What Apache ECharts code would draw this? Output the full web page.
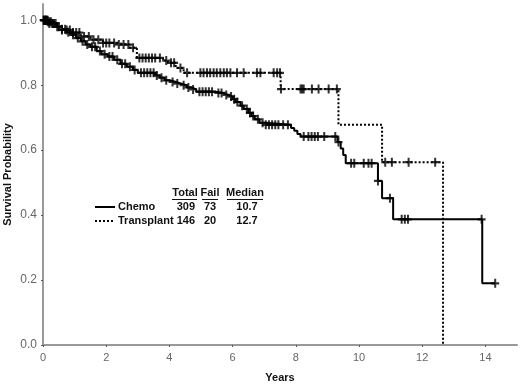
<!DOCTYPE html>
<html>
<head>
<meta charset="utf-8">
<script src="https://cdn.jsdelivr.net/npm/echarts@6/dist/echarts.min.js"></script>
<style>
  html, body { margin: 0; padding: 0; background: #fff; }
  #chart { width: 520px; height: 386px; }
</style>
</head>
<body>
<div id="chart"></div>
<script>
// Kaplan-Meier steps: [years, survival]
const chemoSteps = [
  [0, 1.0], [0.15, 0.995], [0.3, 0.99], [0.45, 0.98], [0.6, 0.972], [0.75, 0.963],
  [0.9, 0.955], [1.05, 0.945], [1.2, 0.935], [1.35, 0.925], [1.5, 0.918], [1.7, 0.905],
  [1.85, 0.895], [2.05, 0.888], [2.25, 0.878], [2.45, 0.866], [2.65, 0.857], [2.85, 0.847],
  [3.0, 0.838], [3.55, 0.83], [3.7, 0.823], [3.85, 0.815], [4.0, 0.81], [4.2, 0.805],
  [4.35, 0.8], [4.55, 0.793], [4.7, 0.787], [4.85, 0.78], [5.45, 0.776], [5.7, 0.77],
  [5.85, 0.765], [6.0, 0.757], [6.1, 0.748], [6.25, 0.737], [6.35, 0.727], [6.5, 0.715],
  [6.6, 0.705], [6.7, 0.695], [6.85, 0.684], [7.0, 0.678], [7.85, 0.668], [7.95, 0.66],
  [8.05, 0.65], [8.15, 0.642], [9.32, 0.625], [9.42, 0.605], [9.5, 0.585], [9.58, 0.56],
  [10.6, 0.505], [10.73, 0.452], [11.08, 0.387], [13.9, 0.19], [14.31, 0.19]
];
const transplantSteps = [
  [0, 1.0], [0.2, 0.99], [0.4, 0.98], [0.6, 0.97], [0.9, 0.962], [1.2, 0.95],
  [1.5, 0.94], [1.9, 0.93], [2.3, 0.925], [2.75, 0.915], [2.97, 0.884], [3.8, 0.876],
  [3.95, 0.869], [4.2, 0.853], [4.45, 0.838], [7.52, 0.788], [9.35, 0.678],
  [10.73, 0.563], [12.66, 0.0]
];
// censored times
const chemoCensor = [
  0.02, 0.05, 0.08, 0.1, 0.12, 0.15, 0.2, 0.25, 0.3, 0.35, 0.4, 0.5, 0.6, 0.7, 0.8, 0.95,
  1.1, 1.25, 1.4, 1.55, 1.65, 1.8, 1.95, 2.1, 2.2, 2.35, 2.5, 2.6, 2.75, 2.9, 3.1, 3.2,
  3.3, 3.4, 3.5, 3.6, 3.75, 3.9, 4.1, 4.25, 4.45, 4.6, 4.75, 4.95, 5.05, 5.15, 5.25, 5.35,
  5.55, 5.65, 5.8, 5.95, 6.05, 6.15, 6.3, 6.45, 6.55, 6.65, 6.8, 6.95, 7.05, 7.15, 7.25,
  7.35, 7.45, 7.6, 7.75, 8.25, 8.4, 8.5, 8.6, 8.7, 8.9, 9.25, 9.35, 9.75, 9.85, 10.15,
  10.3, 10.4, 10.6, 10.98, 11.35, 11.45, 11.55, 13.88, 14.31
];
const transplantCensor = [
  0.03, 0.06, 0.1, 0.15, 0.2, 0.3, 0.45, 0.6, 0.75, 0.85, 0.95, 1.05, 1.15, 1.3, 1.45,
  1.6, 1.75, 1.9, 2.0, 2.1, 2.25, 2.4, 2.55, 2.7, 2.85, 3.05, 3.15, 3.25, 3.35, 3.45,
  3.55, 3.7, 3.9, 4.05, 4.15, 4.35, 4.56, 4.98, 5.08, 5.19, 5.29, 5.4, 5.5, 5.61, 5.72,
  5.82, 5.93, 6.14, 6.35, 6.77, 6.88, 7.3, 7.41, 7.5, 7.53, 8.15, 8.2, 8.25, 8.51, 8.72,
  9.04, 9.3, 10.83, 11.04, 11.57, 12.41
];
const xTicks = [0, 2, 4, 6, 8, 10, 12, 14];
const groups = ['Chemo', 'Transplant'];
const totals = [309, 146];
const fails = [73, 20];
const medians = ['10.7', '12.7'];

const stepAt = (steps, t) => {
  let v = steps[0][1];
  for (const [x, y] of steps) { if (x <= t) v = y; }
  return v;
};

const plus = 'path://M3,0H5V3H8V5H5V8H3V5H0V3H3Z';
const font = 'Liberation Sans, Arial, sans-serif';
const bold11 = 'bold 11px ' + font;

const chart = echarts.init(document.getElementById('chart'));

// legend table
const graphics = [];
const headers = [['Total', 185, 172, 197], ['Fail', 210, 202, 218], ['Median', 245, 227, 263]];
headers.forEach(([h, cx, x1, x2]) => {
  graphics.push({ type: 'text', x: cx, y: 193, style: { text: h, font: bold11, fill: '#111', align: 'center', verticalAlign: 'middle' } });
  graphics.push({ type: 'line', shape: { x1, y1: 199.5, x2, y2: 199.5 }, style: { stroke: '#111', lineWidth: 1 } });
});
groups.forEach((g, i) => {
  const y = 207 + i * 14;
  graphics.push({ type: 'line', shape: { x1: 95, y1: y, x2: 115, y2: y },
    style: { stroke: '#000', lineWidth: 2, lineDash: i ? [2, 2] : null } });
  graphics.push({ type: 'text', x: 118, y, style: { text: g, font: bold11, fill: '#111', align: 'left', verticalAlign: 'middle' } });
  graphics.push({ type: 'text', x: 195, y, style: { text: String(totals[i]), font: bold11, fill: '#111', align: 'right', verticalAlign: 'middle' } });
  graphics.push({ type: 'text', x: 210, y, style: { text: String(fails[i]), font: bold11, fill: '#111', align: 'center', verticalAlign: 'middle' } });
  graphics.push({ type: 'text', x: 247, y, style: { text: medians[i], font: bold11, fill: '#111', align: 'center', verticalAlign: 'middle' } });
});

chart.setOption({
  animation: false,
  grid: { left: 43, right: 3, top: 4, bottom: 41, containLabel: false, outerBoundsMode: 'none' },
  xAxis: {
    type: 'value', min: 0, max: 15, interval: 2,
    name: 'Years', nameLocation: 'middle', nameGap: 27, nameMoveOverlap: false,
    nameTextStyle: { fontFamily: font, fontWeight: 'bold', fontSize: 11, color: '#111' },
    axisLine: { lineStyle: { color: '#999', width: 2 } },
    axisTick: { length: 2, lineStyle: { color: '#555' } },
    axisLabel: { color: '#666', fontFamily: font, fontSize: 11, margin: 7, showMaxLabel: false,
      formatter: v => xTicks.includes(v) ? String(v) : '' },
    splitLine: { show: false }
  },
  yAxis: {
    type: 'value', min: 0, max: 1.05, interval: 0.2,
    name: 'Survival Probability', nameLocation: 'middle', nameGap: 30, nameMoveOverlap: false,
    nameTextStyle: { fontFamily: font, fontWeight: 'bold', fontSize: 11, color: '#111' },
    axisLine: { show: true, lineStyle: { color: '#999', width: 2 } },
    axisTick: { show: true, length: 2, lineStyle: { color: '#555' } },
    axisLabel: { color: '#666', fontFamily: font, fontSize: 12, margin: 6, showMaxLabel: false,
      formatter: v => v.toFixed(1) },
    splitLine: { show: false }
  },
  series: [
    {
      name: 'Chemo', type: 'line', step: 'end', symbol: 'none',
      data: chemoSteps, lineStyle: { color: '#000', width: 2 }, z: 3
    },
    {
      name: 'Transplant', type: 'line', step: 'end', symbol: 'none',
      data: transplantSteps, lineStyle: { color: '#000', width: 2, type: [2, 2] }, z: 2
    },
    {
      type: 'scatter', symbol: plus, symbolSize: [8, 9],
      data: chemoCensor.map(t => [t, stepAt(chemoSteps, t)]),
      itemStyle: { color: '#000' }, z: 4
    },
    {
      type: 'scatter', symbol: plus, symbolSize: [8, 9],
      data: transplantCensor.map(t => [t, stepAt(transplantSteps, t)]),
      itemStyle: { color: '#000' }, z: 4
    }
  ],
  graphic: graphics
});
</script>
</body>
</html>
